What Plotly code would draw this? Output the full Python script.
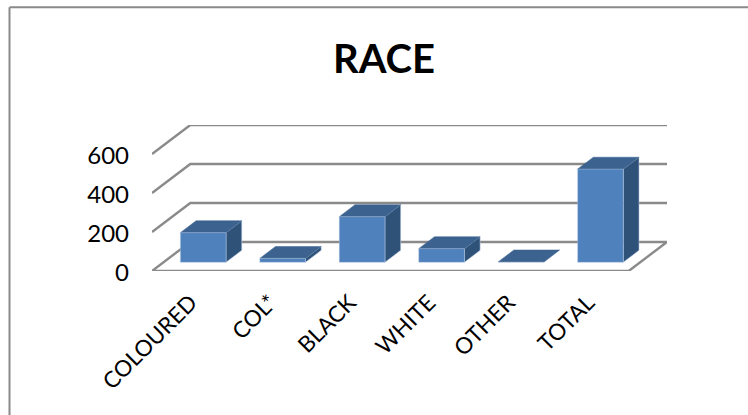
import plotly.graph_objects as go

# Data
categories = ["COLOURED", "COL*", "BLACK", "WHITE", "OTHER", "TOTAL"]
counts = [152, 20, 234, 70, 2, 478]
value_ticks = [0, 200, 400, 600]

# Chart size and oblique projection settings
WIDTH, HEIGHT = 748, 415
LEFT, RIGHT, FLOOR_Y = 152.0, 628.7, 270.6
PX_PER_SLOT = (RIGHT - LEFT) / len(categories)
PX_PER_UNIT = 38.9 / 200
DEPTH_PX_X, DEPTH_PX_Y = 38.3, 29.0
SHIFT_X = DEPTH_PX_X / PX_PER_SLOT      # sideways shift of the back plane, in slots
SHIFT_Y = DEPTH_PX_Y / PX_PER_UNIT      # upward shift of the back plane, in value units
BAR_WIDTH = 0.575
BAR_FRONT, BAR_BACK = 0.30, 0.71        # bar position along the depth, 0 = front, 1 = back

FRONT_COLOR = "#4f81bd"
TOP_COLOR = "#3c628f"
SIDE_COLOR = "#2f5279"
EDGE_COLOR = "rgba(185,205,229,0.55)"
GRID_COLOR = "#8a8a8a"
TEXT_FONT = "Lato"


def project(x, value, depth):
    return x + depth * SHIFT_X, value + depth * SHIFT_Y


def polygon(points, fill, edge, edge_width=1.0):
    xs, ys = zip(*(project(*p) for p in points + points[:1]))
    return go.Scatter(x=xs, y=ys, mode="lines", fill="toself", fillcolor=fill,
                      line=dict(color=edge, width=edge_width), hoverinfo="skip",
                      cliponaxis=False)


fig = go.Figure()

# Floor
n = len(categories)
fig.add_trace(polygon([(0, 0, 0), (n, 0, 0), (n, 0, 1), (0, 0, 1)], "#ffffff", GRID_COLOR, 2.4))

# Gridlines running up the side wall and across the back wall
for v in value_ticks[1:]:
    pts = [project(0, v, 0), project(0, v, 1), project(n, v, 1)]
    fig.add_trace(go.Scatter(x=[p[0] for p in pts], y=[p[1] for p in pts], mode="lines",
                             line=dict(color=GRID_COLOR, width=2.4), hoverinfo="skip",
                             cliponaxis=False))

# Bars: back-left to front-right so nearer faces cover the rest
for i, v in enumerate(counts):
    x0 = i + 0.5 - BAR_WIDTH / 2
    x1 = i + 0.5 + BAR_WIDTH / 2
    d0, d1 = BAR_FRONT, BAR_BACK
    fig.add_trace(polygon([(x1, 0, d0), (x1, 0, d1), (x1, v, d1), (x1, v, d0)], SIDE_COLOR, EDGE_COLOR))
    fig.add_trace(polygon([(x0, v, d0), (x1, v, d0), (x1, v, d1), (x0, v, d1)], TOP_COLOR, TOP_COLOR, 0.5))
    fig.add_trace(polygon([(x0, 0, d0), (x1, 0, d0), (x1, v, d0), (x0, v, d0)], FRONT_COLOR, EDGE_COLOR, 0.8))

plot_top = FLOOR_Y - (600 + SHIFT_Y) * PX_PER_UNIT
plot_w = RIGHT + DEPTH_PX_X - LEFT
plot_h = FLOOR_Y - plot_top
frame_left = (9.5 - LEFT) / plot_w
frame_top = (FLOOR_Y - 7.5) / plot_h

fig.update_layout(
    width=WIDTH, height=HEIGHT,
    margin=dict(l=LEFT, r=WIDTH - (RIGHT + DEPTH_PX_X), t=plot_top, b=HEIGHT - FLOOR_Y, pad=0),
    paper_bgcolor="#ffffff", plot_bgcolor="#ffffff", showlegend=False,
    font=dict(family=TEXT_FONT, size=23, color="#000000"),
    title=dict(text="<b>RACE</b>", x=384 / WIDTH, xanchor="center", xref="container",
               y=1 - 59 / HEIGHT, yanchor="middle", yref="container",
               font=dict(family=TEXT_FONT, size=40, color="#000000")),
    xaxis=dict(range=[0, n + SHIFT_X], tickmode="array",
               tickvals=[i + 0.5 for i in range(n)], ticktext=categories,
               tickangle=-45, showgrid=False, zeroline=False, showline=False, ticks="",
               ticklabelstandoff=13, ticklabelshift=-1, automargin=False,
               tickfont=dict(family=TEXT_FONT, size=22.5)),
    yaxis=dict(range=[0, 600 + SHIFT_Y], tickmode="array", tickvals=value_ticks,
               ticktext=[str(v) for v in value_ticks], showgrid=False, zeroline=False,
               showline=False, ticks="", ticklabelstandoff=22, ticklabelshift=2,
               automargin=False, tickfont=dict(family=TEXT_FONT, size=24)),
    shapes=[
        # Chart area frame: top and left edges
        dict(type="line", xref="paper", yref="paper", x0=frame_left, x1=(748 - LEFT) / plot_w,
             y0=frame_top, y1=frame_top, line=dict(color=GRID_COLOR, width=2)),
        dict(type="line", xref="paper", yref="paper", x0=frame_left, x1=frame_left,
             y0=(FLOOR_Y - 415) / plot_h, y1=frame_top, line=dict(color=GRID_COLOR, width=2)),
    ],
)

fig.write_html("out.html", config=dict(displayModeBar=False))
